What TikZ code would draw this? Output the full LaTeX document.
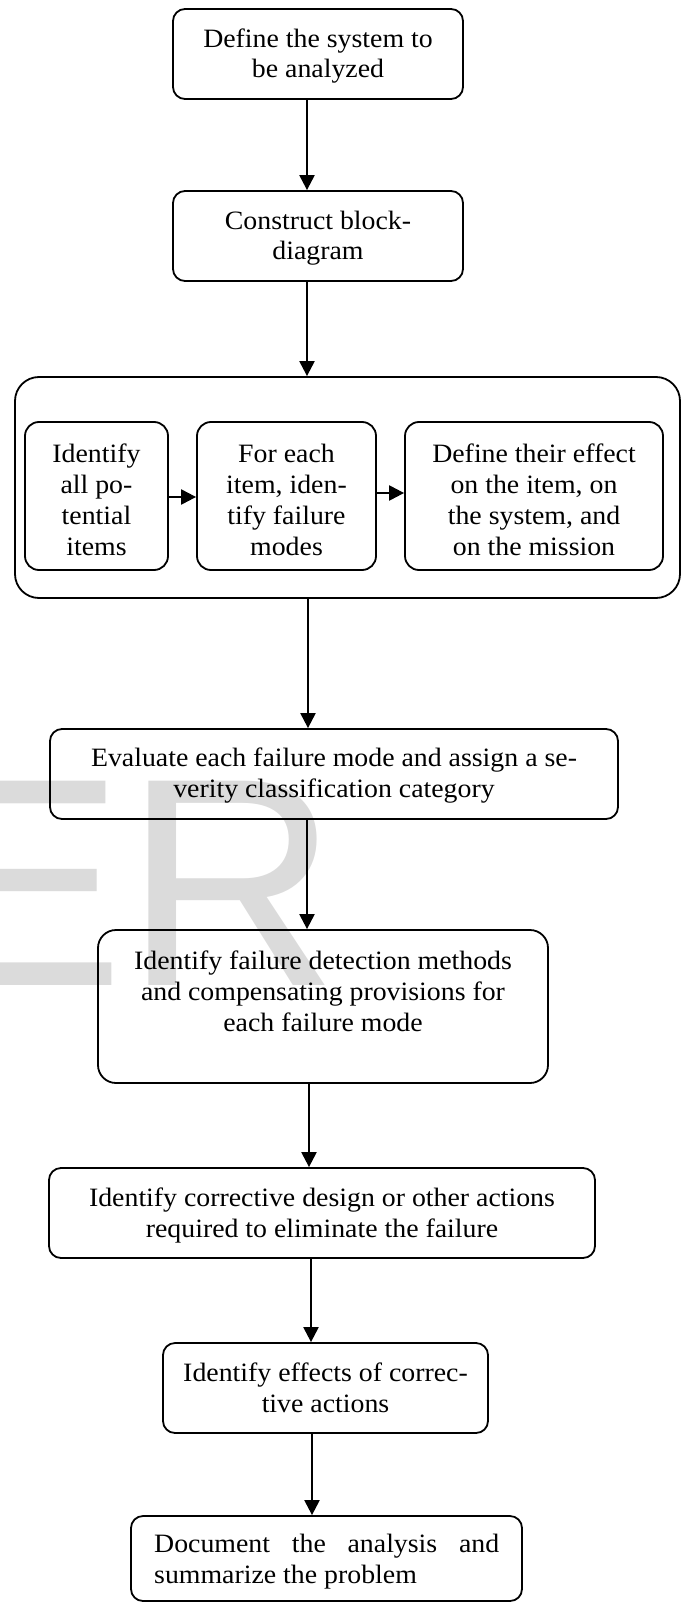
\documentclass[tikz,border=0pt]{standalone}
\usepackage{fontspec}
\setmainfont{Liberation Serif}[FakeStretch=1.05]
\newfontfamily\wmfont{Liberation Sans}
\usetikzlibrary{arrows.meta}
\tikzset{
  box/.style={draw, line width=1.8pt, rounded corners=12pt, inner sep=0pt},
  txt/.style={inner sep=0pt, align=center, font=\fontsize{26.5}{30.8}\selectfont},
  arr/.style={line width=2.2pt, -{Triangle[length=15pt,width=15pt]}},
}
\begin{document}
\begin{tikzpicture}[x=1pt,y=-1pt]
\useasboundingbox (0,0) rectangle (684,1602);
\begin{scope}
  \clip (0,0) rectangle (684,1602);
  \node[anchor=base west, inner sep=0pt, text=black!14, font=\wmfont\fontsize{297}{297}\selectfont] (wm) at (-74,985) {ER};
\end{scope}

% boxes
\node[box, minimum width=290pt, minimum height=90pt] (b1) at (318,54) {};
\node[box, minimum width=290pt, minimum height=90pt] (b2) at (318,236) {};
\node[box, rounded corners=24pt, minimum width=665pt, minimum height=221pt] (cont) at (347.5,487.5) {};
\node[box, rounded corners=14pt, minimum width=143pt, minimum height=148pt] (iA) at (96.5,496) {};
\node[box, rounded corners=14pt, minimum width=179pt, minimum height=148pt] (iB) at (286.5,496) {};
\node[box, rounded corners=14pt, minimum width=258pt, minimum height=148pt] (iC) at (534,496) {};
\node[box, minimum width=568pt, minimum height=90pt] (b4) at (334,774) {};
\node[box, rounded corners=18pt, minimum width=450pt, minimum height=153pt] (b5) at (323,1006.5) {};
\node[box, minimum width=546pt, minimum height=90pt] (b6) at (322,1213) {};
\node[box, minimum width=325pt, minimum height=90pt] (b7) at (325.5,1388) {};
\node[box, minimum width=391pt, minimum height=85pt] (b8) at (326.5,1558.5) {};

% texts (anchor = baseline of the last line)
\node[txt, anchor=base] (t1) at (318,78) {Define the system to\\be analyzed};
\node[txt, anchor=base] (t2) at (318,260) {Construct block-\\diagram};
\node[txt, anchor=base] (tA) at (96.5,555) {Identify\\all po-\\tential\\items};
\node[txt, anchor=base] (tB) at (286.5,555) {For each\\item, iden-\\tify failure\\modes};
\node[txt, anchor=base] (tC) at (534,555) {Define their effect\\on the item, on\\the system, and\\on the mission};
\node[txt, anchor=base] (t4) at (334,797) {Evaluate each failure mode and assign a se-\\verity classification category};
\node[txt, anchor=base] (t5) at (323,1031) {Identify failure detection methods\\and compensating provisions for\\each failure mode};
\node[txt, anchor=base] (t6) at (322,1237) {Identify corrective design or other actions\\required to eliminate the failure};
\node[txt, anchor=base] (t7) at (325.5,1412) {Identify effects of correc-\\tive actions};
\node[txt, anchor=base west, align=left] (t8) at (154,1583) {\makebox[345pt][s]{Document the analysis and}\\summarize the problem};

% connector guides
\coordinate (xa) at (307,0);
\coordinate (xb) at (308,0);
\coordinate (xc) at (309,0);
\coordinate (xd) at (311,0);
\coordinate (xe) at (312,0);
\coordinate (ya) at (0,497);
\coordinate (yb) at (0,493);

% connectors
\draw[arr] (b1.south -| xa) -- (b2.north -| xa);
\draw[arr] (b2.south -| xa) -- (cont.north -| xa);
\draw[arr] (iA.east |- ya) -- (iB.west |- ya);
\draw[arr] (iB.east |- yb) -- (iC.west |- yb);
\draw[arr] (cont.south -| xb) -- (b4.north -| xb);
\draw[arr] (b4.south -| xa) -- (b5.north -| xa);
\draw[arr] (b5.south -| xc) -- (b6.north -| xc);
\draw[arr] (b6.south -| xd) -- (b7.north -| xd);
\draw[arr] (b7.south -| xe) -- (b8.north -| xe);
\end{tikzpicture}
\end{document}
